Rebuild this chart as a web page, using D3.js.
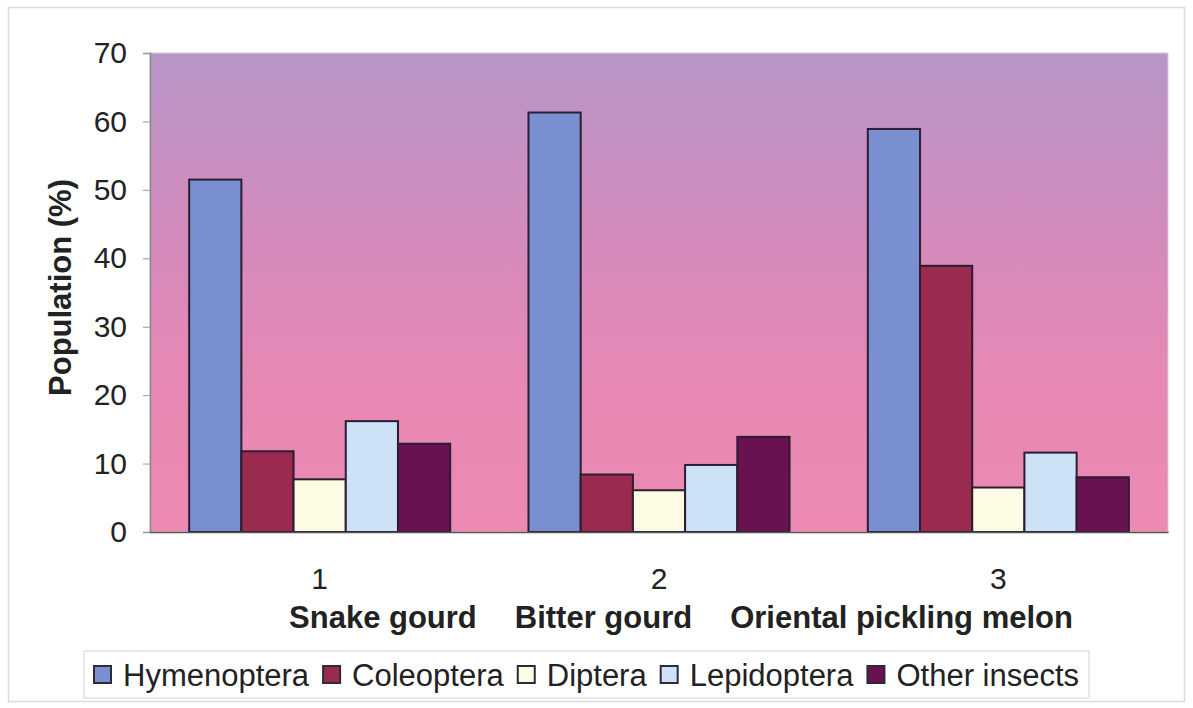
<!DOCTYPE html>
<html>
<head>
<meta charset="utf-8">
<script src="https://cdn.jsdelivr.net/npm/d3@7/dist/d3.min.js"></script>
<style>
  html, body { margin: 0; padding: 0; background: #fff; }
  svg { display: block; font-family: "Liberation Sans", Arial, Helvetica, sans-serif; }
</style>
</head>
<body>
<svg id="chart" width="1193" height="708"></svg>
<script>
// Group tick labels and crop names under them
const categories = ["1", "2", "3"];
const cropNames = ["Snake gourd", "Bitter gourd", "Oriental pickling melon"];

// Insect orders (series) and their colours
const seriesNames = ["Hymenoptera", "Coleoptera", "Diptera", "Lepidoptera", "Other insects"];
const seriesColors = ["#7a8fd0", "#9a2a4e", "#fdfbe3", "#cde2f6", "#6a1150"];

// Population share (%) per crop, one array per series
const hymenoptera = [51.5, 61.3, 58.9];
const coleoptera  = [11.8, 8.4, 38.9];
const diptera     = [7.7, 6.1, 6.5];
const lepidoptera = [16.2, 9.8, 11.6];
const otherInsects = [12.9, 13.9, 8.0];

// Y axis ticks
const yTicks = [0, 10, 20, 30, 40, 50, 60, 70];

const seriesValues = [hymenoptera, coleoptera, diptera, lepidoptera, otherInsects];
const rows = categories.map((c, i) => ({
  category: c,
  values: seriesNames.map((s, k) => ({ series: s, value: seriesValues[k][i] }))
}));

const svg = d3.select("#chart");
const plot = { left: 150, top: 53, right: 1168, bottom: 532 };

// Outer chart frame
svg.append("rect")
  .attr("x", 8.5).attr("y", 7.5).attr("width", 1176).attr("height", 694)
  .attr("fill", "#fff").attr("stroke", "#dcdcdc").attr("stroke-width", 1.5);

// Plot-area gradient
const defs = svg.append("defs");
const grad = defs.append("linearGradient").attr("id", "bg")
  .attr("x1", 0).attr("y1", 0).attr("x2", 0).attr("y2", 1);
[["0%", "#b896c8"], ["35%", "#d18bbd"], ["65%", "#e588b4"], ["100%", "#ec8ab2"]]
  .forEach(([o, c]) => grad.append("stop").attr("offset", o).attr("stop-color", c));

svg.append("rect")
  .attr("x", plot.left).attr("y", plot.top)
  .attr("width", plot.right - plot.left).attr("height", plot.bottom - plot.top)
  .attr("fill", "url(#bg)").attr("stroke", "#d4cad6").attr("stroke-width", 1);

const x0 = d3.scaleBand().domain(categories).range([plot.left, plot.right]).padding(0);
const x1 = d3.scaleBand().domain(seriesNames).range([0, x0.bandwidth()])
  .paddingInner(0).paddingOuter(0.75);
const y = d3.scaleLinear().domain([0, 70]).range([plot.bottom, plot.top]);
const color = d3.scaleOrdinal().domain(seriesNames).range(seriesColors);

// Bars
svg.append("g").selectAll("g").data(rows).join("g")
  .attr("transform", d => `translate(${x0(d.category)},0)`)
  .selectAll("rect").data(d => d.values).join("rect")
  .attr("x", d => x1(d.series))
  .attr("y", d => y(d.value))
  .attr("width", x1.bandwidth())
  .attr("height", d => y(0) - y(d.value))
  .attr("fill", d => color(d.series))
  .attr("stroke", "#2b1d33").attr("stroke-width", 2);

// Y axis
const yAxis = svg.append("g").attr("transform", `translate(${plot.left},0)`)
  .call(d3.axisLeft(y).tickValues(yTicks).tickSize(7).tickPadding(16));
yAxis.select(".domain").attr("stroke", "#8a8a8a").attr("stroke-width", 1.5);
yAxis.selectAll(".tick line").attr("stroke", "#9a9a9a");
yAxis.selectAll(".tick text").attr("fill", "#222").attr("font-size", 30)
  .attr("font-family", "Liberation Sans, Arial, sans-serif");

// X axis
const xAxis = svg.append("g").attr("transform", `translate(0,${plot.bottom})`)
  .call(d3.axisBottom(x0).tickSize(0).tickPadding(36));
xAxis.select(".domain").attr("stroke", "#555").attr("stroke-width", 1.5);
xAxis.selectAll(".tick text").attr("fill", "#222").attr("font-size", 30)
  .attr("font-family", "Liberation Sans, Arial, sans-serif");

// Crop names line below the group numbers
const names = svg.append("g");
const nameTexts = names.selectAll("text").data(cropNames).join("text")
  .attr("y", 628).attr("font-size", 31).attr("font-weight", "bold").attr("fill", "#222")
  .text(d => d);
const gap = 38;
const widths = nameTexts.nodes().map(n => n.getComputedTextLength());
const total = d3.sum(widths) + gap * (widths.length - 1);
let cx = 681 - total / 2;
nameTexts.attr("x", (d, i) => { const v = cx; cx += widths[i] + gap; return v; });

// Y axis title
svg.append("text")
  .attr("transform", `translate(71,${(plot.top + plot.bottom) / 2 - 5}) rotate(-90)`)
  .attr("text-anchor", "middle").attr("font-size", 31).attr("font-weight", "bold")
  .attr("fill", "#222").text("Population (%)");

// Legend
const legend = svg.append("g");
const legendBox = legend.append("rect")
  .attr("fill", "#fff").attr("stroke", "#e2e2e2").attr("stroke-width", 1.5);
const items = legend.selectAll("g").data(seriesNames).join("g");
items.append("rect")
  .attr("width", 17).attr("height", 17).attr("y", 666)
  .attr("fill", d => color(d)).attr("stroke", "#2b2b3a").attr("stroke-width", 2);
items.append("text")
  .attr("x", 29).attr("y", 686).attr("font-size", 31).attr("fill", "#222")
  .text(d => d);
let lx = 94;
items.attr("transform", function () {
  const t = `translate(${lx},0)`;
  lx += 29 + d3.select(this).select("text").node().getComputedTextLength() + 14;
  return t;
});
legendBox.attr("x", 84).attr("y", 651).attr("width", lx - 14 + 10 - 84).attr("height", 47);
</script>
</body>
</html>
